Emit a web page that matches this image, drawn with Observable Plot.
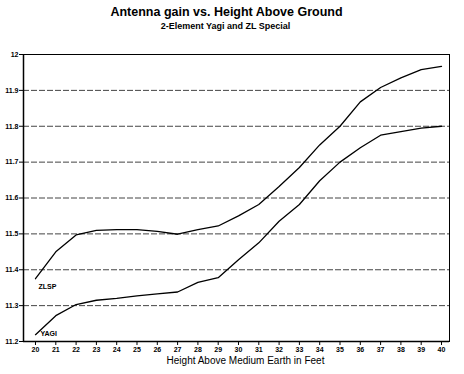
<!DOCTYPE html>
<html><head><meta charset="utf-8">
<script src="https://cdn.jsdelivr.net/npm/d3@7"></script>
<script src="https://cdn.jsdelivr.net/npm/@observablehq/plot@0.6"></script>
<style>
body{margin:0;background:#fff;}
svg{font-family:"Liberation Sans",Arial,sans-serif;}
</style>
</head><body><div id="chart"></div>
<script>
const heights = [20,21,22,23,24,25,26,27,28,29,30,31,32,33,34,35,36,37,38,39,40];
const zlsp = [11.375,11.45,11.497,11.51,11.512,11.512,11.507,11.499,11.512,11.522,11.55,11.582,11.632,11.685,11.748,11.80,11.868,11.908,11.935,11.958,11.967];
const yagi = [11.219,11.272,11.303,11.315,11.32,11.327,11.333,11.338,11.365,11.378,11.428,11.475,11.535,11.582,11.648,11.70,11.74,11.775,11.785,11.795,11.80];
const yTicks = [11.2,11.3,11.4,11.5,11.6,11.7,11.8,11.9,12];
const gridTicks = [11.3,11.4,11.5,11.6,11.7,11.8,11.9];
const title = "Antenna gain vs. Height Above Ground";
const subtitle = "2-Element Yagi and ZL Special";
const xLabel = "Height Above Medium Earth in Feet";

const data = [];
heights.forEach((h,i)=>{data.push({h, g:zlsp[i], s:"ZLSP"}); data.push({h, g:yagi[i], s:"YAGI"});});

const chart = Plot.plot({
  width:464, height:374,
  marginLeft:23, marginRight:15, marginTop:54, marginBottom:33,
  x:{domain:[19.409,40.394], ticks:heights, tickSize:4, tickPadding:2, tickFormat:d=>String(d), label:null},
  y:{domain:[11.2,12], ticks:yTicks, tickSize:4, tickPadding:1, tickFormat:d=>d===12?"12":d.toFixed(1), label:null},
  style:{fontSize:"7px", fontWeight:"bold", color:"#000"},
  marks:[
    Plot.ruleY(gridTicks,{stroke:"#444", strokeWidth:1, strokeDasharray:"6 2"}),
    Plot.frame({stroke:"#000", strokeWidth:1}),
    Plot.ruleX([19.409],{stroke:"#000", strokeWidth:1.5}),
    Plot.ruleY([11.2],{stroke:"#000", strokeWidth:1.5}),
    Plot.ruleY([12],{stroke:"#000", strokeWidth:1.2}),
    Plot.line(data,{x:"h", y:"g", z:"s", stroke:"#000", strokeWidth:1.3}),
    Plot.text([{h:heights[0], g:zlsp[0], t:"ZLSP"}],{x:"h", y:"g", text:"t", textAnchor:"start", dx:3, dy:8, fontSize:7, fontWeight:"bold"}),
    Plot.text([{h:heights[0], g:yagi[0], t:"YAGI"}],{x:"h", y:"g", text:"t", textAnchor:"start", dx:5, dy:-1, fontSize:7, fontWeight:"bold"}),
    Plot.text([title],{frameAnchor:"top", lineAnchor:"middle", dy:-42.5, dx:-10, fontSize:12.5, fontWeight:"bold"}),
    Plot.text([subtitle],{frameAnchor:"top", lineAnchor:"middle", dy:-28.5, dx:-11, fontSize:9, fontWeight:"bold"}),
    Plot.text([xLabel],{frameAnchor:"bottom", lineAnchor:"middle", dy:19.5, dx:9, fontSize:10, fontWeight:"normal"})
  ]
});
document.getElementById("chart").appendChild(chart);
</script></body></html>
